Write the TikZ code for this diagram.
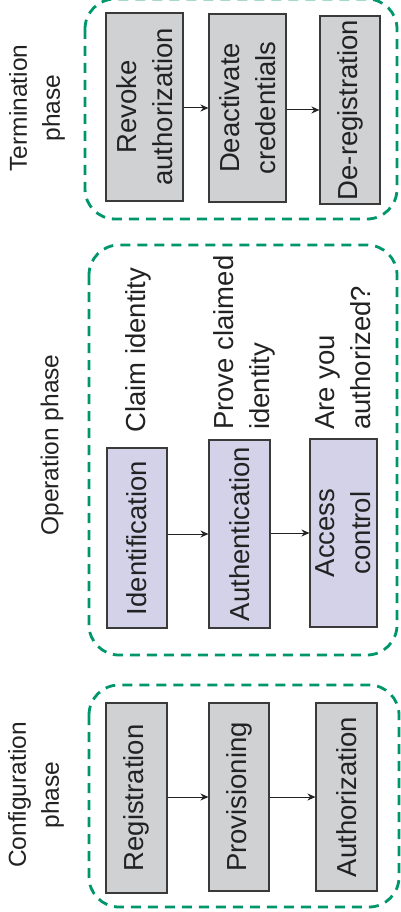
\documentclass[tikz,border=0pt]{standalone}
\usepackage{fontspec}
\setmainfont{Liberation Sans}
\usetikzlibrary{
  arrows.meta,
  positioning
}
\definecolor{lcZone}{HTML}{00966B}
\definecolor{lcGrey}{HTML}{D0D1D3}
\definecolor{lcLilac}{HTML}{D3D2E9}
\definecolor{lcEdge}{HTML}{3A3A3A}
\definecolor{lcText}{HTML}{222222}
\tikzset{
  lcnode/.style={
    draw=lcEdge, line width=1.1pt, rotate=90, inner sep=0pt,
    font=\fontsize{27.5}{36}\selectfont, text=lcText, align=center
  },
  stepgrey/.style={lcnode, fill=lcGrey},
  steplilac/.style={lcnode, fill=lcLilac},
  note/.style={rotate=90, anchor=north west, inner sep=0pt, align=left,
    font=\fontsize{27.5}{36}\selectfont, text=lcText},
  phaselabel/.style={rotate=90, inner sep=0pt, align=center,
    font=\fontsize{24.5}{33}\selectfont, text=lcText},
  zone/.style={draw=lcZone, line width=2.8pt, rounded corners=30pt,
    dash pattern=on 10pt off 7pt},
  flow/.style={-{Stealth[length=8pt, width=7pt]}, line width=1pt, lcText}
}

\begin{document}
\begin{tikzpicture}[x=1pt, y=-1pt]
  \useasboundingbox (0,0) rectangle (401,912);

  % phase frames
  \draw[zone] (85,-1) rectangle (397,219);
  \draw[zone] (89,245) rectangle (397,655);
  \draw[zone] (89,685) rectangle (399,907);

  % phase names
  \node[phaselabel] (termlbl) at (37,108) {Termination\\phase};
  \node[phaselabel] (operlbl) at (52,445) {Operation phase};
  \node[phaselabel] (conflbl) at (36,795) {Configuration\\phase};

  % termination
  \node[stepgrey, minimum width=188pt, minimum height=77pt] (revoke) at (144.5,107) {Revoke\\authorization};
  \node[stepgrey, minimum width=188pt, minimum height=77pt] (deact) at (247.5,108) {Deactivate\\credentials};
  \node[stepgrey, minimum width=188pt, minimum height=60pt] (dereg) at (350,110) {De-registration};

  % operation
  \node[steplilac, minimum width=180pt, minimum height=60pt] (ident) at (137,538) {Identification};
  \node[steplilac, minimum width=188pt, minimum height=61pt] (authn) at (239.5,534) {Authentication};
  \node[steplilac, minimum width=188pt, minimum height=67pt] (access) at (343.5,533) {Access\\control};

  \node[note] (claim) at (125,433) {Claim identity};
  \node[note] (prove) at (213,430) {Prove claimed\\identity};
  \node[note] (askauth) at (315,430) {Are you\\authorized?};

  % configuration
  \node[stepgrey, minimum width=190pt, minimum height=61pt] (reg) at (136.5,798) {Registration};
  \node[stepgrey, minimum width=188pt, minimum height=60pt] (prov) at (239,797) {Provisioning};
  \node[stepgrey, minimum width=188pt, minimum height=61pt] (authz) at (346.5,797) {Authorization};

  \foreach \a/\b in {revoke/deact, deact/dereg, ident/authn, authn/access, reg/prov, prov/authz}
    \draw[flow] (\a.south |- \b) -- (\b.north);
\end{tikzpicture}
\end{document}
